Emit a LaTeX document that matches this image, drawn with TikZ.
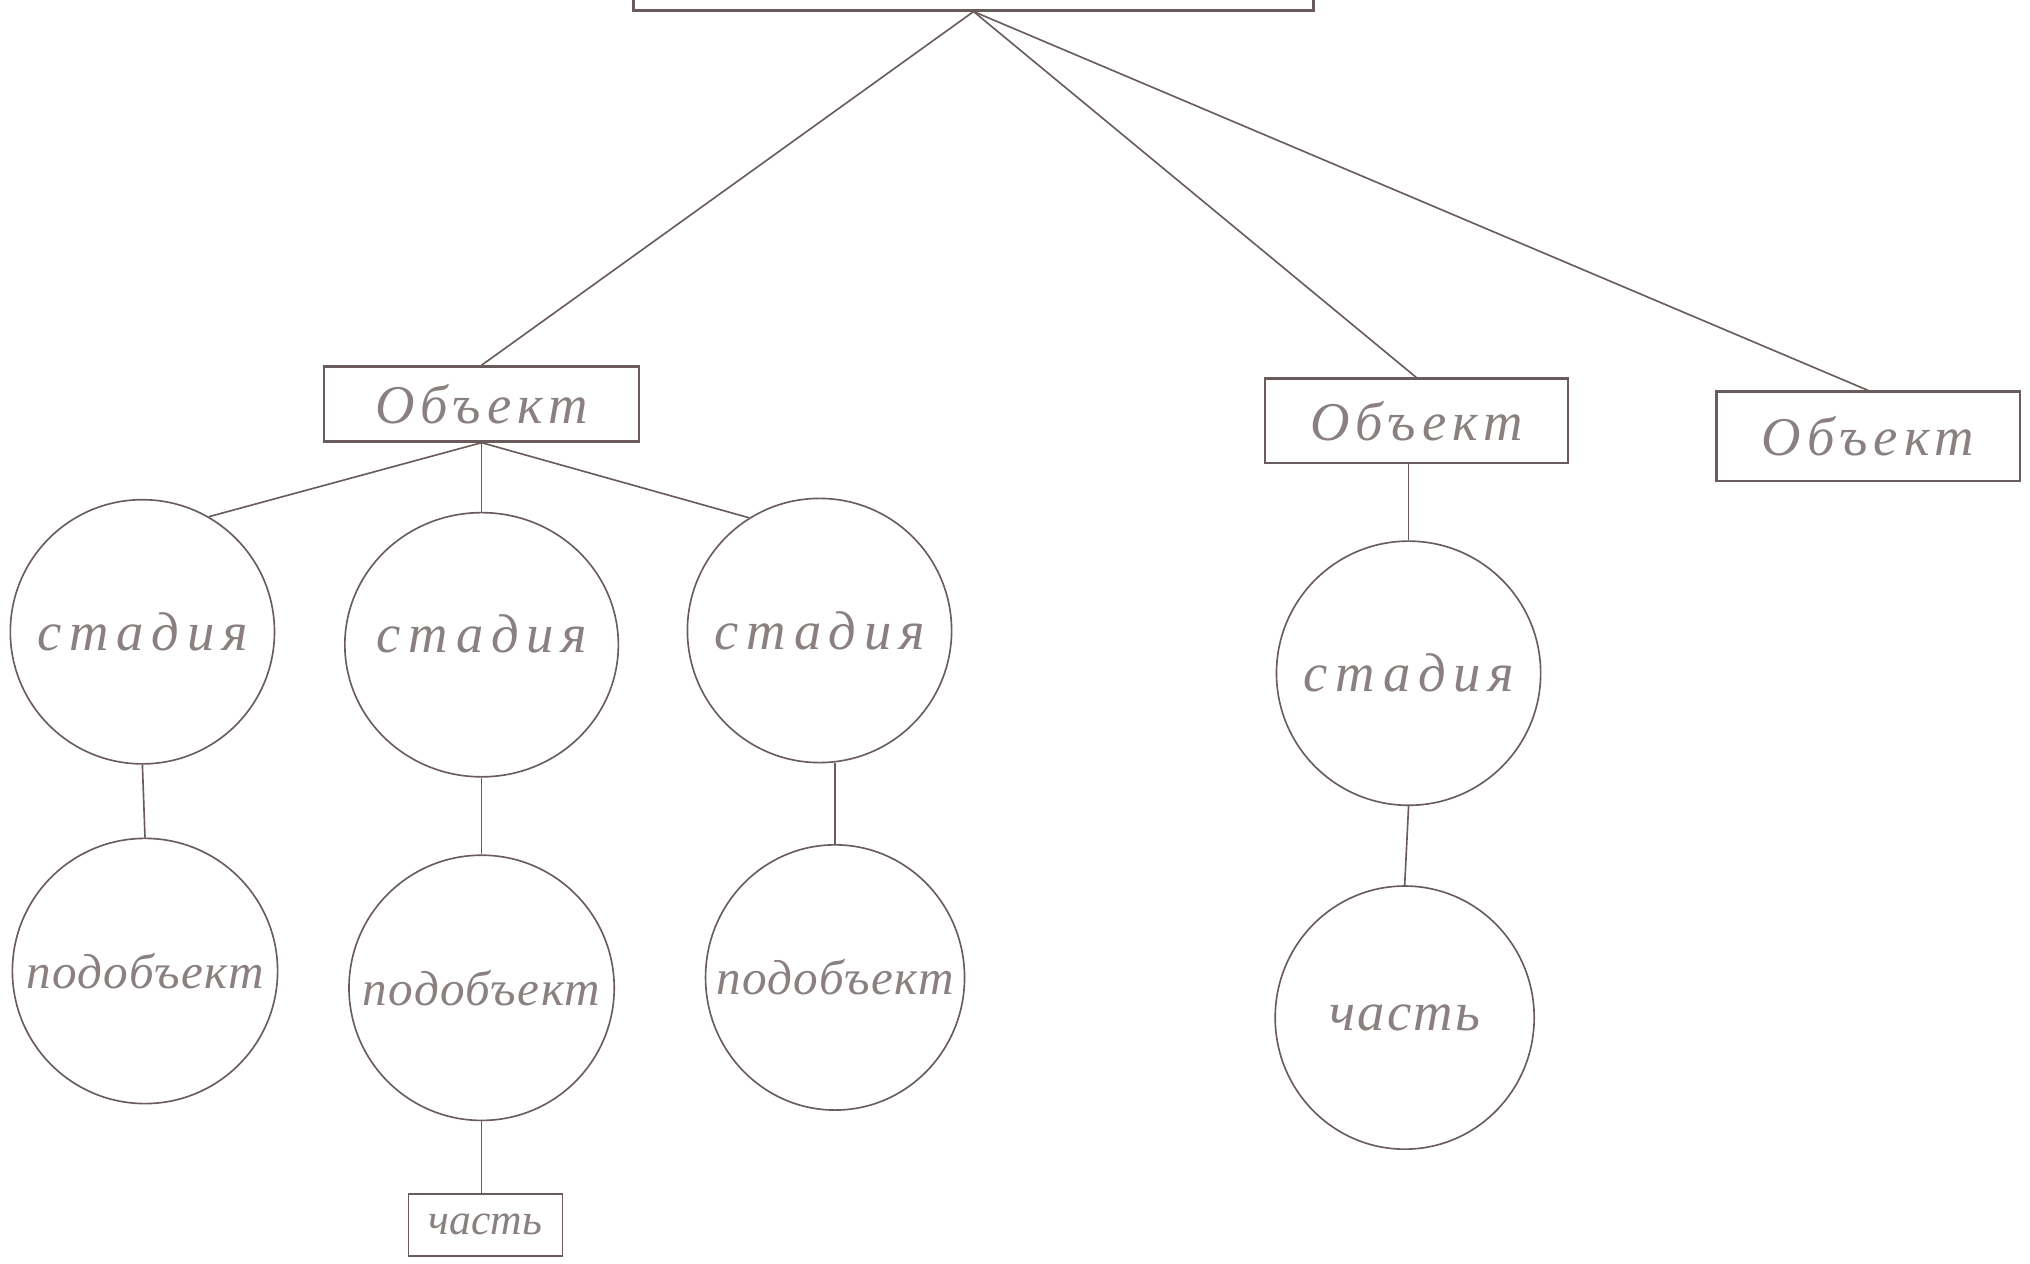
\documentclass[tikz,border=0pt]{standalone}
\usepackage{fontspec}
\setmainfont{Liberation Serif}
\newfontfamily\handfont{Liberation Serif}
\newcommand\hw[2]{{\addfontfeature{LetterSpace=#1}#2}}
\usetikzlibrary{shapes.geometric}
\definecolor{ink}{HTML}{6A5C5C}
\definecolor{pencil}{HTML}{8A8080}
\tikzset{
  handtext/.style={text=pencil, font=\handfont\itshape\fontsize{30}{34}\selectfont},
  smallhand/.style={text=pencil, font=\handfont\itshape\fontsize{27}{31}\selectfont},
  objbox/.style={draw=ink, line width=1.3pt, rectangle, inner sep=0pt, handtext},
  stagecirc/.style={draw=ink, line width=0.9pt, ellipse, inner sep=0pt,
     minimum width=5.1cm, minimum height=5.1cm},
  conn/.style={draw=ink, line width=0.9pt}
}
\begin{document}
\begin{tikzpicture}[x=0.025cm,y=-0.025cm]
\useasboundingbox[fill=white] (0,0) rectangle (1568,976);
% top box (cut by the page edge)
\node[objbox, minimum width=13.125cm, minimum height=2cm] (top) at (752,-32) {};
% objects
\node[objbox, minimum width=6.075cm, minimum height=1.45cm] (o1) at (372,312) {\hw{11}{Объект}};
\node[objbox, minimum width=5.85cm, minimum height=1.625cm] (o2) at (1094,325) {\hw{11}{Объект}};
\node[objbox, minimum width=5.85cm, minimum height=1.725cm] (o3) at (1443,337) {\hw{11}{Объект}};
% stages
\node[stagecirc] (c1) at (110,488) {};
\node[stagecirc, minimum width=5.28cm] (c2) at (372,498) {};
\node[stagecirc] (c3) at (633,487) {};
\node[stagecirc] (c4) at (1088,520) {};
% sub-objects and parts
\node[stagecirc, minimum width=5.12cm, minimum height=5.12cm] (s1) at (112,750) {};
\node[stagecirc, minimum width=5.12cm, minimum height=5.12cm] (s2) at (372,763) {};
\node[stagecirc, minimum width=5.0cm, minimum height=5.12cm] (s3) at (645,755) {};
\node[stagecirc, minimum width=5.0cm, minimum height=5.08cm] (c5) at (1085,786) {};
\node[objbox, line width=1pt, minimum width=2.975cm, minimum height=1.2cm,
      font=\handfont\itshape\fontsize{24}{28}\selectfont] (part) at (375,946) {часть};
% texts inside the circles
\node[handtext] (t1) at (c1.center) {\hw{14}{стадия}};
\node[handtext] (t2) at ([yshift=6]c2.center) {\hw{14}{стадия}};
\node[handtext] (t3) at (c3.center) {\hw{14}{стадия}};
\node[handtext] (t4) at (c4.center) {\hw{14}{стадия}};
\node[smallhand] (t5) at (s1.center) {\hw{3}{подобъект}};
\node[smallhand] (t6) at (s2.center) {\hw{3}{подобъект}};
\node[smallhand] (t7) at (s3.center) {\hw{3}{подобъект}};
\node[handtext] (t8) at (c5.center) {\hw{4}{часть}};
% connectors
\draw[conn] (top.south) -- (o1.north);
\draw[conn] (top.south) -- (o2.north);
\draw[conn] (top.south) -- (o3.north);
\draw[conn] (o1.south) -- (c1.60);
\draw[conn] (o1.south) -- (c2.north);
\draw[conn] (o1.south) -- (c3.122);
\draw[conn] (c1.south) -- (s1.north);
\draw[conn] (c2.south) -- (s2.north);
\draw[conn] (s3.north) -- (s3.north |- c3.south);
\draw[conn] (s2.south) -- (s2.south |- part.north);
\draw[conn] (c4.north) -- (c4.north |- o2.south);
\draw[conn] (c4.south) -- (c5.north);
\end{tikzpicture}
\end{document}
